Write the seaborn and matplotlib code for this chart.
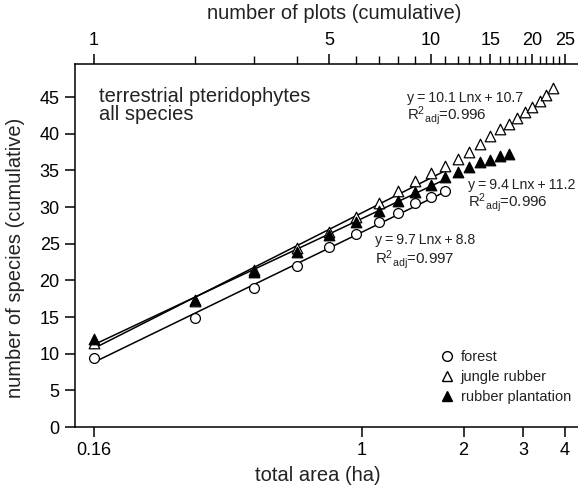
import matplotlib
matplotlib.use("Agg")
import matplotlib.pyplot as plt
from matplotlib.ticker import FixedLocator, FixedFormatter, NullLocator, NullFormatter
from matplotlib.lines import Line2D
import numpy as np
import pandas as pd
import seaborn as sns

# -----------------------------
# Data (cumulative species per cumulative plot, 0.16 ha each)
# -----------------------------
PLOT_AREA = 0.16

forest = [9.4, 14.9, 19.0, 22.0, 24.5, 26.3, 27.9, 29.2, 30.5, 31.4, 32.2]
jungle_rubber = [11.4, 17.2, 21.4, 24.4, 26.6, 28.7, 30.6, 32.2, 33.5, 34.7,
                 35.6, 36.6, 37.5, 38.6, 39.7, 40.6, 41.3, 42.1, 42.9, 43.7,
                 44.5, 45.3, 46.2]
rubber_plantation = [12.0, 17.3, 21.2, 23.9, 26.2, 28.0, 29.5, 30.8, 32.0, 33.0,
                     34.1, 34.8, 35.5, 36.1, 36.4, 36.9, 37.2]

series_names = ["forest", "jungle rubber", "rubber plantation"]
series_values = [forest, jungle_rubber, rubber_plantation]

# fitted curves y = a*Ln(x) + b, x = number of plots
fit_slope = [9.7, 10.1, 9.4]
fit_icept = [8.8, 10.7, 11.2]
fit_r2 = ["0.997", "0.996", "0.996"]
fit_last_plot = 11

area_ticks = [0.16, 1, 2, 3, 4]
area_labels = ["0.16", "1", "2", "3", "4"]
plot_ticks = [1, 5, 10, 15, 20, 25]
plot_minor = [n for n in range(2, 25) if n not in plot_ticks]
y_ticks = list(range(0, 46, 5))

# long-form tables
rows = []
for name, vals in zip(series_names, series_values):
    for i, v in enumerate(vals):
        rows.append({"series": name, "plots": i + 1, "area": (i + 1) * PLOT_AREA, "species": v})
df = pd.DataFrame(rows)

fit_rows = []
for name, a, b in zip(series_names, fit_slope, fit_icept):
    for n in range(1, fit_last_plot + 1):
        fit_rows.append({"series": name, "area": n * PLOT_AREA, "species": a * np.log(n) + b})
fit_df = pd.DataFrame(fit_rows)

# -----------------------------
# Style
# -----------------------------
sns.set_style("ticks")
plt.rcParams["font.family"] = ["Liberation Sans", "DejaVu Sans"]
plt.rcParams["mathtext.fontset"] = "custom"
plt.rcParams["mathtext.rm"] = "Liberation Sans"
plt.rcParams["mathtext.default"] = "regular"
plt.rcParams["axes.edgecolor"] = "black"
plt.rcParams["xtick.color"] = "black"
plt.rcParams["ytick.color"] = "black"
plt.rcParams["text.color"] = "#222222"
plt.rcParams["axes.labelcolor"] = "#222222"

fig = plt.figure(figsize=(5.78, 4.91), dpi=100)
ax = fig.add_axes([75 / 578, 64 / 491, 503 / 578, 363 / 491])

# fitted lines
for name in series_names:
    sns.lineplot(data=fit_df[fit_df["series"] == name], x="area", y="species",
                 color="black", linewidth=1.1, ax=ax, zorder=2, legend=False)

# markers
marker_style = {
    "forest": dict(marker="o", color="white", s=50, zorder=3),
    "jungle rubber": dict(marker="^", color="white", s=58, zorder=3),
    "rubber plantation": dict(marker="^", color="black", s=58, zorder=4),
}
for name in series_names:
    sns.scatterplot(data=df[df["series"] == name], x="area", y="species",
                    edgecolor="black", linewidth=0.9, ax=ax, legend=False,
                    **marker_style[name])

ax.set_xscale("log")
ax.set_xlim(0.141, 4.37)
ax.set_ylim(0, 49.5)
ax.xaxis.set_major_locator(FixedLocator(area_ticks))
ax.xaxis.set_major_formatter(FixedFormatter(area_labels))
ax.xaxis.set_minor_locator(NullLocator())
ax.set_yticks(y_ticks)
ax.tick_params(which="both", direction="out", length=7, width=1.1, labelsize=13, pad=4)
for side in ["top", "right"]:
    ax.spines[side].set_visible(False)
for side in ["left", "bottom"]:
    ax.spines[side].set_linewidth(1.1)

ax.set_xlabel("total area (ha)", fontsize=14.5)
ax.xaxis.set_label_coords(0.482, -0.108)
ax.set_ylabel("number of species (cumulative)", fontsize=14.5)
ax.yaxis.set_label_coords(-0.099, 0.466)

# top axis: number of plots
secax = ax.secondary_xaxis("top", functions=(lambda a: a / PLOT_AREA, lambda n: n * PLOT_AREA))
secax.xaxis.set_major_locator(FixedLocator(plot_ticks))
secax.xaxis.set_major_formatter(FixedFormatter([str(t) for t in plot_ticks]))
secax.xaxis.set_minor_locator(FixedLocator(plot_minor))
secax.xaxis.set_minor_formatter(NullFormatter())
secax.tick_params(which="major", direction="out", length=7, width=1.1, labelsize=13, pad=4)
secax.tick_params(which="minor", direction="out", length=6, width=1.0)
secax.spines["top"].set_linewidth(1.1)
ax.text(0.515, 1.124, "number of plots (cumulative)", transform=ax.transAxes,
        fontsize=14.5, va="baseline", ha="center", color="#222222")

# -----------------------------
# Annotations
# -----------------------------
ax.text(0.048, 0.937, "terrestrial pteridophytes\nall species", transform=ax.transAxes,
        fontsize=14.5, va="top", ha="left", linespacing=0.95)

eq_pos = {"forest": (0.596, 0.503, 0.451),
          "jungle rubber": (0.660, 0.896, 0.846),
          "rubber plantation": (0.781, 0.655, 0.607)}
ts = "\u2009"
for name, a, b, r2 in zip(series_names, fit_slope, fit_icept, fit_r2):
    x0, y1, y2 = eq_pos[name]
    ax.text(x0, y1, f"y{ts}={ts}{a}{ts}Lnx{ts}+{ts}{b}", transform=ax.transAxes, fontsize=10.2,
            va="baseline", ha="left")
    ax.text(x0, y2, r"R$^{2}$$_{adj}$=" + r2, transform=ax.transAxes, fontsize=10.8,
            va="baseline", ha="left")

# legend
handles = [
    Line2D([], [], linestyle="none", marker="o", markerfacecolor="white", markeredgecolor="black", markersize=7),
    Line2D([], [], linestyle="none", marker="^", markerfacecolor="white", markeredgecolor="black", markersize=7.5),
    Line2D([], [], linestyle="none", marker="^", markerfacecolor="black", markeredgecolor="black", markersize=7.5),
]
ax.legend(handles, series_names, loc="upper left", bbox_to_anchor=(0.7247, 0.213),
          frameon=False, fontsize=10.5, borderpad=0, borderaxespad=0,
          handlelength=1.0, handletextpad=0.45, labelspacing=0.42)

fig.savefig("out.png", dpi=100)
